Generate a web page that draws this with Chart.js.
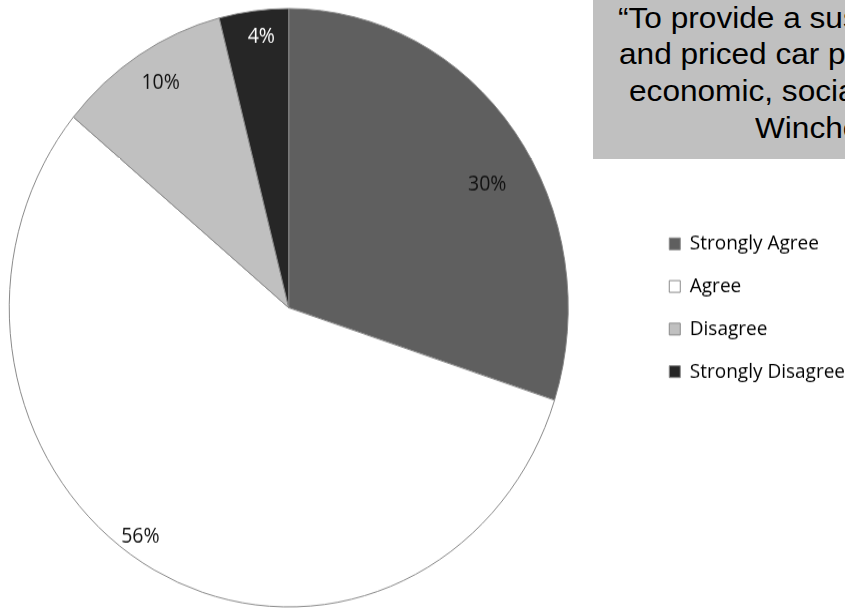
<!DOCTYPE html>
<html>
<head>
<meta charset="utf-8">
<script src="https://cdn.jsdelivr.net/npm/chart.js@4"></script>
<style>
  html, body { margin: 0; padding: 0; background: #fff; }
  body { width: 845px; height: 608px; position: relative; overflow: hidden; }
  /* canvas starts left of the page so the pie lands at x=288 with the legend on the right */
  .pie-wrap {
    position: absolute; left: -71px; top: 0;
    width: 926px; height: 568px;
    transform: scaleY(1.0704);
    transform-origin: 0 0;
  }
  .quote {
    position: absolute; left: 593px; top: 0;
    width: 252px; height: 159px;
    background: #c0c0c0; overflow: hidden;
    font-family: "Liberation Sans", Arial, sans-serif;
    font-size: 29px; line-height: 29px; color: #000;
  }
  .quote div {
    position: absolute; white-space: nowrap;
    transform: scaleX(1.09); transform-origin: 0 0;
  }
</style>
</head>
<body>
<div class="pie-wrap"><canvas id="pieChart"></canvas></div>
<div class="quote">
  <div style="left:25px; top:4px;">“To provide a sustainable</div>
  <div style="left:26px; top:40px;">and priced car parking</div>
  <div style="left:36px; top:77px;">economic, social and</div>
  <div style="left:162px; top:114px;">Winchester”</div>
</div>
<script>
const categories = ["Strongly Agree", "Agree", "Disagree", "Strongly Disagree"];
const shares = [30, 56, 10, 4];

const sliceColors = ["#5f5f5f", "#ffffff", "#c0c0c0", "#262626"];
const labelColors = ["#111111", "#111111", "#111111", "#ffffff"];

// percent labels near the rim of each slice ("best fit" style nudges)
const sliceLabels = {
  id: "sliceLabels",
  afterDatasetsDraw(chart, args, opts) {
    const { ctx } = chart;
    const meta = chart.getDatasetMeta(0);
    ctx.save();
    ctx.font = "19.5px 'Open Sans'";
    ctx.textAlign = "center";
    ctx.textBaseline = "middle";
    meta.data.forEach((arc, i) => {
      const { x, y, startAngle, endAngle, outerRadius } = arc.getProps(
        ["x", "y", "startAngle", "endAngle", "outerRadius"],
        true
      );
      const mid = (startAngle + endAngle) / 2 + (opts.shift[i] * Math.PI) / 180;
      const r = outerRadius * opts.distance[i];
      ctx.fillStyle = opts.colors[i];
      ctx.fillText(shares[i] + "%", x + Math.cos(mid) * r, y + Math.sin(mid) * r);
    });
    ctx.restore();
  },
};

new Chart(document.getElementById("pieChart"), {
  type: "pie",
  data: {
    labels: categories,
    datasets: [
      {
        data: shares,
        backgroundColor: sliceColors,
        borderColor: "#8a8a8a",
        borderWidth: 1,
      },
    ],
  },
  plugins: [sliceLabels],
  options: {
    responsive: true,
    maintainAspectRatio: false,
    animation: false,
    layout: {
      padding: { left: 0, right: 0, top: 7.5, bottom: 0.5 },
    },
    plugins: {
      tooltip: { enabled: false },
      sliceLabels: {
        distance: [0.82, 0.93, 0.88, 0.91],
        shift: [6, 6, 1, 1],
        colors: labelColors,
      },
      legend: {
        position: "right",
        align: "center",
        labels: {
          boxWidth: 11,
          boxHeight: 11,
          padding: 20.8,
          color: "#000000",
          font: { family: "'Open Sans'", size: 19 },
        },
      },
    },
  },
});
</script>
</body>
</html>
